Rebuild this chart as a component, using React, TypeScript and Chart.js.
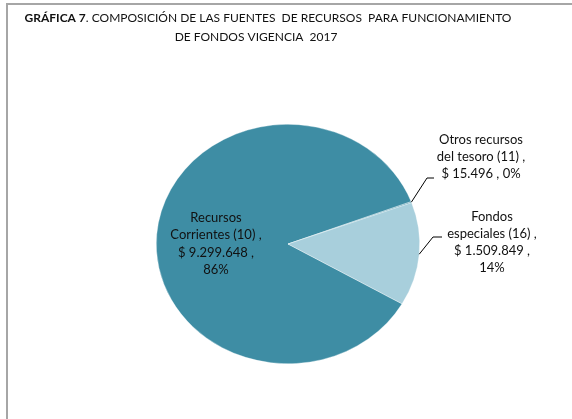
import React, { useEffect, useRef } from "react";
import { Chart, registerables } from "chart.js";
Chart.register(...registerables);

const categories = ["Recursos Corrientes (10)", "Otros recursos del tesoro (11)", "Fondos especiales (16)"];
const values = [9299648, 15496, 1509849];
const labelLines = [
  ["Recursos", "Corrientes (10) ,", "$ 9.299.648 ,", "86%"],
  ["Otros recursos", "del tesoro (11) ,", "$ 15.496 , 0%"],
  ["Fondos", "especiales (16) ,", "$ 1.509.849 ,", "14%"],
];
const colors = ["#3E8DA4", "#4A97AD", "#A8CFDC"];
const titleBold = "GRÁFICA 7";
const titleRest = ". COMPOSICIÓN DE LAS FUENTES  DE RECURSOS  PARA FUNCIONAMIENTO";
const titleLine2 = "DE FONDOS VIGENCIA  2017";

const FONT = "Lato, 'Open Sans', sans-serif";
const SY = 120 / 132;

// label anchor positions (layout)
const labelPos = [
  { x: 216, y: 218, lh: 17.3 },
  { x: 481, y: 140, lh: 16.8 },
  { x: 492, y: 217, lh: 16.8 },
];
const leaderEnds = [
  null,
  [[427, 178], [434, 178]],
  [[433, 237], [442, 237]],
];

const ellipsePlugin = {
  id: "ellipse",
  beforeDatasetsDraw(chart: any) {
    const { ctx, chartArea } = chart;
    const cx = (chartArea.left + chartArea.right) / 2;
    const cy = (chartArea.top + chartArea.bottom) / 2;
    ctx.save();
    ctx.translate(cx, cy);
    ctx.scale(1, SY);
    ctx.translate(-cx, -cy);
  },
  afterDatasetsDraw(chart: any) {
    chart.ctx.restore();
  },
};

const decorPlugin = {
  id: "decor",
  afterDraw(chart: any) {
    const ctx = chart.ctx as CanvasRenderingContext2D;
    ctx.save();
    // frame
    ctx.strokeStyle = "#a6a6a6";
    ctx.lineWidth = 2;
    ctx.beginPath();
    ctx.moveTo(572, 4);
    ctx.lineTo(7, 4);
    ctx.lineTo(7, 419);
    ctx.stroke();

    // title
    ctx.fillStyle = "#111";
    ctx.textBaseline = "middle";
    const fs = 12;
    ctx.font = `bold ${fs}px ${FONT}`;
    const wb = ctx.measureText(titleBold).width;
    ctx.font = `${fs}px ${FONT}`;
    const wr = ctx.measureText(titleRest).width;
    let x0 = 268 - (wb + wr) / 2;
    ctx.textAlign = "left";
    ctx.font = `bold ${fs}px ${FONT}`;
    ctx.fillText(titleBold, x0, 18);
    ctx.font = `${fs}px ${FONT}`;
    ctx.fillText(titleRest, x0 + wb, 18);
    ctx.textAlign = "center";
    ctx.fillText(titleLine2, 256, 37);

    // leaders and labels
    const meta = chart.getDatasetMeta(0);
    ctx.strokeStyle = "#000";
    ctx.lineWidth = 1;
    meta.data.forEach((arc: any, i: number) => {
      const ends = leaderEnds[i];
      if (ends) {
        const mid = (arc.startAngle + arc.endAngle) / 2;
        const sx = arc.x + arc.outerRadius * Math.cos(mid);
        const sy = arc.y + arc.outerRadius * Math.sin(mid) * SY;
        ctx.beginPath();
        ctx.moveTo(sx, sy);
        ends.forEach((p) => ctx.lineTo(p[0], p[1]));
        ctx.stroke();
      }
      const lp = labelPos[i];
      ctx.font = `13px ${FONT}`;
      ctx.fillStyle = "#111";
      ctx.textAlign = "center";
      labelLines[i].forEach((t, k) => ctx.fillText(t, lp.x, lp.y + k * lp.lh));
    });
    ctx.restore();
  },
};

export default function App() {
  const ref = useRef<HTMLCanvasElement>(null);
  useEffect(() => {
    document.body.style.margin = "0";
    const chart = new Chart(ref.current!, {
      type: "pie",
      data: {
        labels: categories,
        datasets: [
          {
            data: values,
            backgroundColor: colors,
            borderColor: "rgba(255,255,255,0.6)",
            borderWidth: 0.6,
          },
        ],
      },
      options: {
        responsive: false,
        animation: false,
        events: [],
        rotation: 120,
        layout: { padding: { left: 156, right: 152, top: 112, bottom: 43 } },
        plugins: {
          legend: { display: false },
          tooltip: { enabled: false },
          title: { display: false },
        },
      },
      plugins: [ellipsePlugin, decorPlugin],
    });
    return () => chart.destroy();
  }, []);
  return (
    <div style={{ width: 572, height: 419, background: "#fff" }}>
      <canvas ref={ref} width={572} height={419} style={{ display: "block" }} />
    </div>
  );
}
